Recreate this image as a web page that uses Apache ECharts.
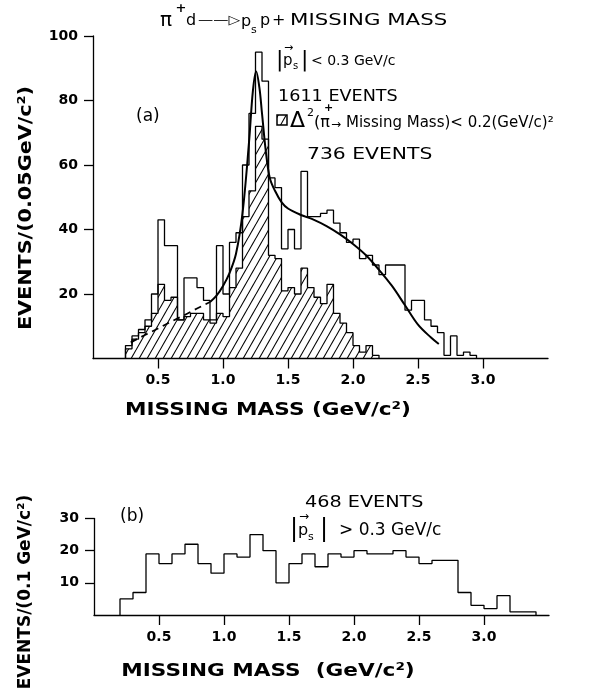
<!DOCTYPE html>
<html><head><meta charset="utf-8">
<script src="https://cdn.jsdelivr.net/npm/echarts@6/dist/echarts.min.js"></script>
<style>html,body{margin:0;padding:0;background:#fff}#c{width:608px;height:688px}</style>
</head><body><div id="c"></div>
<script>
// ---- data (a): pi+ d -> ps p + missing mass, |ps| < 0.3 GeV/c, bins of 0.05 GeV starting at 0.25
const binWidthA = 0.05;
const binStartA = 0.25;
const allEventsA = [4,7,9,12,20,43,35,35,12,25,25,22,18,12,35,20,36,39,60,76,95,86,56,53,34,40,34,58,44,44,45,46,42,39,36,37,31,32,29,26,29,29,29,15,18,18,12,10,8,1,7,1,2,1];
const hatchedEventsA = [3,6,8,10,14,23,18,19,12,13,14,14,12,11,14,13,22,28,44,52,72,68,32,31,21,22,20,28,22,19,17,23,14,11,8,4,2,4,1];
// fitted curve
const fitDashed = [[0.29,5],[0.4,7.3],[0.5,9.3],[0.6,11.4],[0.7,13.4],[0.8,15.5],[0.9,17.5]];
const fitSolid = [[0.9,17.5],[0.95,19.5],[1.0,22.5],[1.05,26.5],[1.1,32.5],[1.15,45],[1.2,67],[1.23,83],[1.255,89],[1.28,84],[1.3,76],[1.33,64],[1.36,56],[1.4,52],[1.45,48.5],[1.5,46.5],[1.6,44.5],[1.7,43],[1.8,41],[1.9,38.5],[2.0,35.5],[2.1,32],[2.2,27.5],[2.3,22.5],[2.4,16.5],[2.5,10.5],[2.6,6.5],[2.66,4.5]];
// ---- data (b): |ps| > 0.3 GeV/c, bins of 0.1 GeV starting at 0.2
const binWidthB = 0.1;
const binStartB = 0.2;
const eventsB = [5,7,19,16,19,22,16,13,19,18,25,20,10,16,19,15,19,18,20,19,19,20,18,16,17,17,7,3,2,6,1,1];
// ---- ticks
const xTicks = [0.5,1.0,1.5,2.0,2.5,3.0];
const yTicksA = [20,40,60,80,100];
const yTicksB = [10,20,30];

function stepData(start, width, counts){
  const pts = [[start,0]];
  counts.forEach((c,i)=>pts.push([+(start+i*width).toFixed(4), c]));
  pts.push([+(start+counts.length*width).toFixed(4), 0]);
  return pts;
}
function makeHatch(){
  const w=8,h=14;
  const cv=document.createElement('canvas'); cv.width=w; cv.height=h;
  const ctx=cv.getContext('2d');
  ctx.strokeStyle='#000'; ctx.lineWidth=1.1;
  for(let k=-1;k<=1;k++){ctx.beginPath();ctx.moveTo(k*w,h);ctx.lineTo(k*w+w,0);ctx.stroke();}
  return cv;
}
const hatch = makeHatch();
const FF = '"DejaVu Sans", sans-serif';
const black = '#000';

function xAxisCfg(grid){
  return {type:'value', gridIndex:grid, min:0, max:3.5,
    axisLine:{show:true,onZero:false,lineStyle:{color:black,width:1.3}},
    axisTick:{show:true,length:10,customValues:xTicks,lineStyle:{color:black,width:1.3}},
    axisLabel:{customValues:xTicks,formatter:v=>v.toFixed(1),margin:15,fontSize:14,color:black,fontFamily:FF,fontWeight:'bold'},
    splitLine:{show:false}};
}
function yAxisCfg(grid,max,ticks){
  return {type:'value', gridIndex:grid, min:0, max:max,
    axisLine:{show:true,onZero:false,lineStyle:{color:black,width:1.3}},
    axisTick:{show:true,length:9,customValues:ticks,lineStyle:{color:black,width:1.3}},
    axisLabel:{customValues:ticks,margin:15,fontSize:14,color:black,fontFamily:FF,fontWeight:'bold'},
    splitLine:{show:false}};
}
function txt(x,y,text,size,opts){
  opts=opts||{};
  return {type:'text', x:x, y:y, rotation:opts.rot||0, scaleX:opts.sx||1, scaleY:1, z:10,
    style:{text:text, fill:black, font:(opts.weight||'normal')+' '+size+'px '+FF,
      fontSize:size, fontFamily:FF, fontWeight:opts.weight||'normal',
      align:opts.align||'left', textAlign:opts.align||'left',
      verticalAlign:'middle', textVerticalAlign:'middle'}};
}

const chart = echarts.init(document.getElementById('c'), null, {renderer:'canvas'});
chart.setOption({
  animation:false,
  backgroundColor:'#fff',
  grid:[{left:93,top:36,width:455,height:322.5},{left:94,top:518.5,width:455,height:96.5}],
  xAxis:[xAxisCfg(0),xAxisCfg(1)],
  yAxis:[yAxisCfg(0,100,yTicksA),yAxisCfg(1,30,yTicksB)],
  series:[
    {type:'line',xAxisIndex:0,yAxisIndex:0,step:'end',showSymbol:false,data:stepData(binStartA,binWidthA,allEventsA),
      lineStyle:{color:black,width:1.3},z:3},
    {type:'line',xAxisIndex:0,yAxisIndex:0,step:'end',showSymbol:false,data:stepData(binStartA,binWidthA,hatchedEventsA),
      lineStyle:{color:black,width:1.3},areaStyle:{color:{image:hatch,repeat:'repeat'},opacity:1},z:4},
    {type:'line',xAxisIndex:0,yAxisIndex:0,smooth:0.35,showSymbol:false,data:fitSolid,
      lineStyle:{color:black,width:2},z:5},
    {type:'line',xAxisIndex:0,yAxisIndex:0,showSymbol:false,data:fitDashed,
      lineStyle:{color:black,width:1.8,type:[7,5]},z:5},
    {type:'line',xAxisIndex:1,yAxisIndex:1,step:'end',showSymbol:false,data:stepData(binStartB,binWidthB,eventsB),
      lineStyle:{color:black,width:1.3},z:3}
  ],
  graphic:[
    // title
    txt(160,21,'π',20),
    txt(181,9,'+',13,{weight:'bold',align:'center'}),
    txt(186,21,'d',16),
    txt(198,21,'——▷',13,{sx:1.17}),
    txt(241,22,'p',16),
    txt(251,30,'s',11),
    txt(260,21,'p',16),
    txt(272,21,'+',16),
    txt(290,21,'MISSING MASS',15,{sx:1.42}),
    // |ps| < 0.3 GeV/c
    txt(276,60,'|',22),
    txt(283,61,'p',15),
    txt(293,66,'s',10),
    txt(284,48,'→',11),
    txt(301,60,'|',22),
    txt(311,61,'< 0.3 GeV/c',14),
    txt(278,97,'1611 EVENTS',16,{sx:1.1}),
    {type:'rect',shape:{x:277,y:115,width:10,height:10},z:10,style:{fill:{image:hatch,repeat:'repeat'},stroke:black,lineWidth:1.5}},
    txt(290,121,'Δ',22),
    txt(307,113,'2',11),
    txt(314,123,'(π',16),
    txt(324,108,'+',11,{weight:'bold'}),
    txt(331,125,'→',12),
    txt(346,123,'Missing Mass)< 0.2(GeV/c)²',15),
    txt(307,155,'736 EVENTS',16,{sx:1.27}),
    txt(136,117,'(a)',17),
    // panel b
    txt(120,517,'(b)',17),
    txt(305,503,'468 EVENTS',16,{sx:1.2}),
    txt(290,530,'|',24),
    txt(298,531,'p',16),
    txt(308,537,'s',11),
    txt(299,517,'→',12),
    txt(320,530,'|',24),
    txt(339,531,'> 0.3 GeV/c',17),
    // axis names
    txt(268,410,'MISSING MASS (GeV/c²)',18,{align:'center',weight:'bold',sx:1.2}),
    txt(268,671,'MISSING MASS  (GeV/c²)',18,{align:'center',weight:'bold',sx:1.2}),
    txt(26,208,'EVENTS/(0.05GeV/c²)',18,{align:'center',weight:'bold',rot:Math.PI/2,sx:1.15}),
    txt(26,592,'EVENTS/(0.1 GeV/c²)',17,{align:'center',weight:'bold',rot:Math.PI/2})
  ]
});
</script></body></html>
